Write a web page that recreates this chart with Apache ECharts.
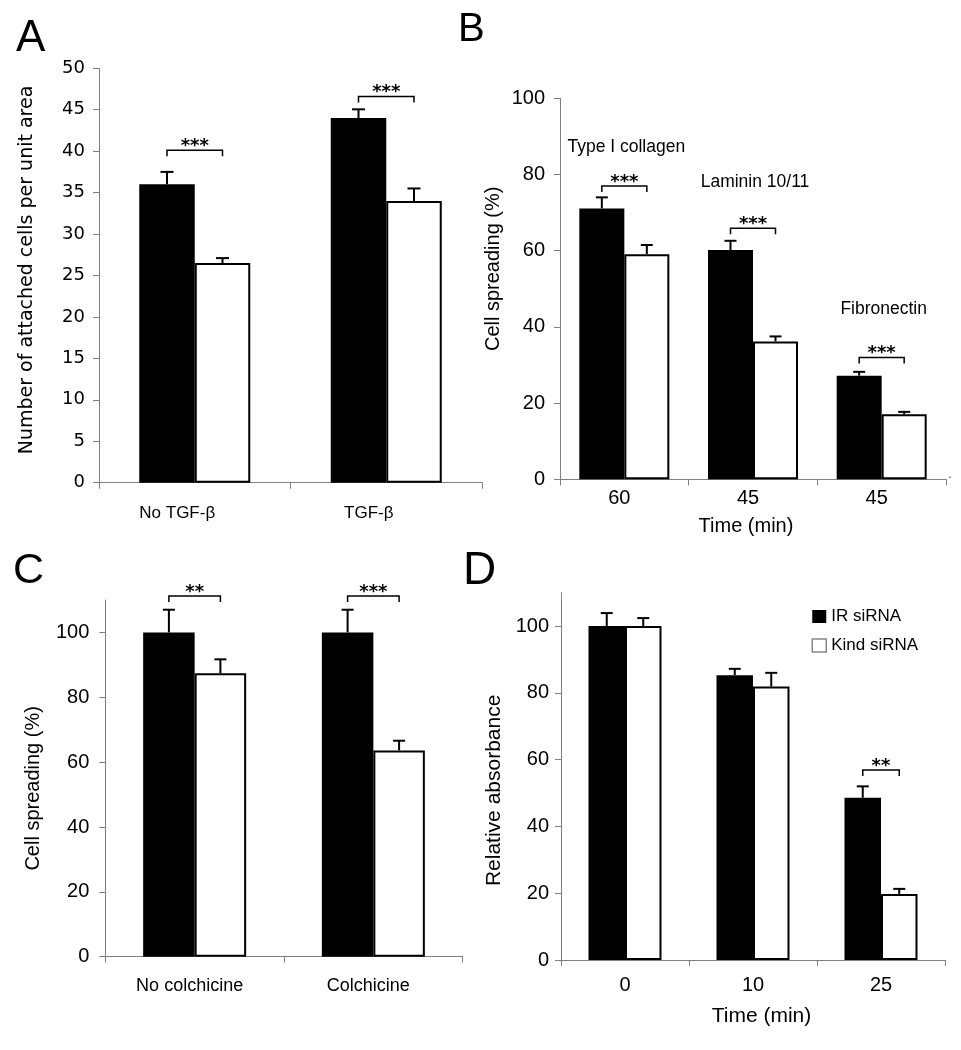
<!DOCTYPE html>
<html><head><meta charset="utf-8">
<script src="https://cdn.jsdelivr.net/npm/echarts@6/dist/echarts.min.js"></script>
<style>html,body{margin:0;padding:0;background:#fff}#c{width:961px;height:1050px}</style>
</head><body><div id="c"></div>
<script>
// ---------- Panel A ----------
const aCategories = ['No TGF-β', 'TGF-β'];
const aBlack = [36, 44];
const aBlackErr = [37.5, 45.05];
const aWhite = [26.5, 34];
const aWhiteErr = [27.1, 35.5];
const aSig = ['***', '***'];
const aSigY = [40.1, 46.6];
const aYTicks = [0, 5, 10, 15, 20, 25, 30, 35, 40, 45, 50];

// ---------- Panel B ----------
const bCategories = ['60', '45', '45'];
const bBlack = [71.1, 60.2, 27.2];
const bBlackErr = [74.0, 62.6, 28.2];
const bWhite = [59.1, 36.2, 17.1];
const bWhiteErr = [61.5, 37.5, 17.7];
const bSig = ['***', '***', '***'];
const bSigY = [77.0, 65.9, 32.0];
const bNotes = ['Type I collagen', 'Laminin 10/11', 'Fibronectin'];
const bNoteY = [87.3, 78.1, 44.6];
const bYTicks = [0, 20, 40, 60, 80, 100];

// ---------- Panel C ----------
const cCategories = ['No colchicine', 'Colchicine'];
const cBlack = [100, 100];
const cBlackErr = [107, 107];
const cWhite = [87.4, 63.6];
const cWhiteErr = [91.7, 66.6];
const cSig = ['**', '***'];
const cSigY = [111.2, 111.2];
const cYTicks = [0, 20, 40, 60, 80, 100];

// ---------- Panel D ----------
const dCategories = ['0', '10', '25'];
const dSeriesNames = ['IR siRNA', 'Kind siRNA'];
const dBlack = [100, 85.3, 48.6];
const dBlackErr = [103.9, 87.2, 52.0];
const dWhite = [100, 81.9, 19.8];
const dWhiteErr = [102.4, 86.0, 21.3];
const dSig = [null, null, '**'];
const dSigY = [null, null, 56.9];
const dYTicks = [0, 20, 40, 60, 80, 100];

const ARIAL = 'Liberation Sans, Arial, sans-serif';
const VERD = 'DejaVu Sans, Verdana, sans-serif';
const AXC = '#808080';

function errSeries(g, vals, errs, side, bw, cap) {
  return {
    type: 'custom', xAxisIndex: g, yAxisIndex: g, silent: true, z: 4, clip: false,
    data: vals.map((v, i) => [i, v, errs[i]]),
    renderItem(params, api) {
      const p0 = api.coord([api.value(0), api.value(1)]);
      const p1 = api.coord([api.value(0), api.value(2)]);
      const x = p0[0] + side * bw / 2;
      return { type: 'group', children: [
        { type: 'line', shape: { x1: x, y1: p0[1], x2: x, y2: p1[1] }, style: { stroke: '#000', lineWidth: 2 } },
        { type: 'line', shape: { x1: x - cap / 2, y1: p1[1], x2: x + cap / 2, y2: p1[1] }, style: { stroke: '#000', lineWidth: 2 } }
      ]};
    }
  };
}

function sigSeries(g, sig, sigY, bw) {
  const items = [];
  sig.forEach((t, i) => { if (t) items.push({ c: i, y: sigY[i], t: t }); });
  return {
    type: 'custom', xAxisIndex: g, yAxisIndex: g, silent: true, z: 5, clip: false,
    data: items.map(o => [o.c, o.y]),
    renderItem(params, api) {
      const it = items[params.dataIndex];
      const p = api.coord([api.value(0), api.value(1)]);
      const x1 = p[0] - bw / 2, x2 = p[0] + bw / 2, y = p[1];
      return { type: 'group', children: [
        { type: 'polyline', shape: { points: [[x1, y + 6], [x1, y], [x2, y], [x2, y + 6]] },
          style: { stroke: '#000', lineWidth: 1.5, fill: null } },
        { type: 'text', style: { x: p[0], y: y - 4, text: it.t, fill: '#000',
          font: 'bold 18px ' + VERD, align: 'center', verticalAlign: 'middle' } }
      ]};
    }
  };
}

function noteSeries(g, notes, ys) {
  return {
    type: 'custom', xAxisIndex: g, yAxisIndex: g, silent: true, z: 5, clip: false,
    data: notes.map((t, i) => [i, ys[i]]),
    renderItem(params, api) {
      const p = api.coord([api.value(0), api.value(1)]);
      return { type: 'text', style: { x: p[0] + 2, y: p[1], text: notes[params.dataIndex], fill: '#000',
        font: '17.5px ' + ARIAL, align: 'center', verticalAlign: 'middle' } };
    }
  };
}

function barPair(g, names, black, white, bw) {
  return [
    { type: 'bar', name: names[0], xAxisIndex: g, yAxisIndex: g, data: black, barWidth: bw, barGap: '0%',
      itemStyle: { color: '#000', borderColor: '#000', borderWidth: 0 }, silent: true, z: 2 },
    { type: 'bar', name: names[1], xAxisIndex: g, yAxisIndex: g, data: white, barWidth: bw, barGap: '0%',
      itemStyle: { color: '#fff', borderColor: '#000', borderWidth: 2 }, silent: true, z: 2 }
  ];
}

function xAxisCfg(g, cats, o) {
  return {
    type: 'category', gridIndex: g, data: cats,
    axisLine: { show: true, lineStyle: { color: AXC, width: 1 } },
    axisTick: { show: true, length: 6, lineStyle: { color: AXC }, alignWithLabel: false },
    axisLabel: { show: true, interval: 0, margin: o.margin, color: '#000', fontFamily: o.font || ARIAL,
      fontSize: o.size, padding: o.lpad || 0 },
    splitLine: { show: false },
    name: o.name || '', nameLocation: 'middle', nameGap: o.nameGap || 0,
    nameTextStyle: { color: '#000', fontFamily: ARIAL, fontSize: o.nameSize || 20, padding: o.npad || 0 }
  };
}

function yAxisCfg(g, ticks, o) {
  const cfg = {
    type: 'value', gridIndex: g, min: 0, max: o.max, interval: o.interval,
    axisLine: { show: true, lineStyle: { color: AXC, width: 1 } },
    axisTick: { show: true, length: 6, lineStyle: { color: AXC } },
    axisLabel: { show: true, margin: o.margin, color: '#000', fontFamily: o.font || ARIAL, fontSize: o.size },
    splitLine: { show: false },
    name: o.name, nameLocation: 'middle', nameGap: o.nameGap, nameRotate: 90,
    nameTextStyle: { color: '#000', fontFamily: o.nameFont || ARIAL, fontSize: o.nameSize, padding: o.npad || 0 }
  };
  if (o.custom) {
    cfg.axisLabel.customValues = ticks;
    cfg.axisTick.customValues = ticks;
  }
  return cfg;
}

const grids = [
  { left: 99, top: 68.3, width: 383, height: 414.4 },
  { left: 560, top: 98.3, width: 386, height: 381 },
  { left: 105.3, top: 600, width: 357.4, height: 356.7 },
  { left: 561, top: 592.7, width: 384, height: 367.3 }
].map(g => Object.assign({ containLabel: false, outerBoundsMode: 'none' }, g));

const option = {
  animation: false,
  backgroundColor: '#fff',
  grid: grids,
  xAxis: [
    xAxisCfg(0, aCategories, { margin: 22, size: 17, lpad: [0, 35, 0, 0] }),
    xAxisCfg(1, bCategories, { margin: 9, size: 20, lpad: [0, 10, 0, 0], name: 'Time (min)', nameGap: 37, nameSize: 20, npad: [0, 14, 0, 0] }),
    xAxisCfg(2, cCategories, { margin: 20, size: 18, lpad: [0, 10, 0, 0] }),
    xAxisCfg(3, dCategories, { margin: 15.5, size: 20, name: 'Time (min)', nameGap: 46, nameSize: 21, npad: [0, 0, 0, 17] })
  ],
  yAxis: [
    yAxisCfg(0, aYTicks, { max: 50, interval: 5, margin: 14, size: 18, font: VERD,
      name: 'Number of attached cells per unit area', nameGap: 62.5, nameSize: 19, nameFont: VERD, npad: [0, 0, 0, 11] }),
    yAxisCfg(1, bYTicks, { max: 100, interval: 20, margin: 15, size: 20,
      name: 'Cell spreading (%)', nameGap: 57, nameSize: 20, npad: [0, 0, 0, 40] }),
    yAxisCfg(2, cYTicks, { max: 110, interval: 20, margin: 16, size: 20, custom: true,
      name: 'Cell spreading (%)', nameGap: 62, nameSize: 20, npad: [0, 20, 0, 0] }),
    yAxisCfg(3, dYTicks, { max: 110, interval: 20, margin: 12, size: 20, custom: true,
      name: 'Relative absorbance', nameGap: 56, nameSize: 21, npad: [0, 28, 0, 0] })
  ],
  legend: {
    data: [
      { name: dSeriesNames[0] },
      { name: dSeriesNames[1], itemStyle: { color: '#fff', borderColor: '#888', borderWidth: 1.5 } }
    ],
    orient: 'vertical', left: 806.5, top: 603, itemWidth: 14, itemHeight: 13, itemGap: 12,
    icon: 'rect', selectedMode: false,
    textStyle: { color: '#000', fontFamily: ARIAL, fontSize: 17 }
  },
  graphic: [
    { type: 'text', style: { x: 16, y: 39, text: 'A', font: '44px ' + ARIAL, fill: '#000', verticalAlign: 'middle' } },
    { type: 'text', style: { x: 458, y: 30, text: 'B', font: '40px ' + ARIAL, fill: '#000', verticalAlign: 'middle' } },
    { type: 'text', style: { x: 13, y: 571, text: 'C', font: '43px ' + ARIAL, fill: '#000', verticalAlign: 'middle' } },
    { type: 'text', style: { x: 463, y: 571, text: 'D', font: '46px ' + ARIAL, fill: '#000', verticalAlign: 'middle' } },
    { type: 'text', style: { x: 948, y: 474, text: '.', font: '14px ' + ARIAL, fill: '#555', verticalAlign: 'middle' } }
  ],
  series: [
    ...barPair(0, ['A black', 'A white'], aBlack, aWhite, 55.5),
    errSeries(0, aBlack, aBlackErr, -1, 55.5, 13),
    errSeries(0, aWhite, aWhiteErr, 1, 55.5, 13),
    sigSeries(0, aSig, aSigY, 55.5),

    ...barPair(1, ['B black', 'B white'], bBlack, bWhite, 45),
    errSeries(1, bBlack, bBlackErr, -1, 45, 12),
    errSeries(1, bWhite, bWhiteErr, 1, 45, 12),
    sigSeries(1, bSig, bSigY, 45),
    noteSeries(1, bNotes, bNoteY),

    ...barPair(2, ['C black', 'C white'], cBlack, cWhite, 51.5),
    errSeries(2, cBlack, cBlackErr, -1, 51.5, 12),
    errSeries(2, cWhite, cWhiteErr, 1, 51.5, 12),
    sigSeries(2, cSig, cSigY, 51.5),

    ...barPair(3, dSeriesNames, dBlack, dWhite, 36.5),
    errSeries(3, dBlack, dBlackErr, -1, 36.5, 12),
    errSeries(3, dWhite, dWhiteErr, 1, 36.5, 12),
    sigSeries(3, dSig, dSigY, 36.5)
  ]
};

const chart = echarts.init(document.getElementById('c'), null, { renderer: 'canvas' });
chart.setOption(option);
</script>
</body></html>
